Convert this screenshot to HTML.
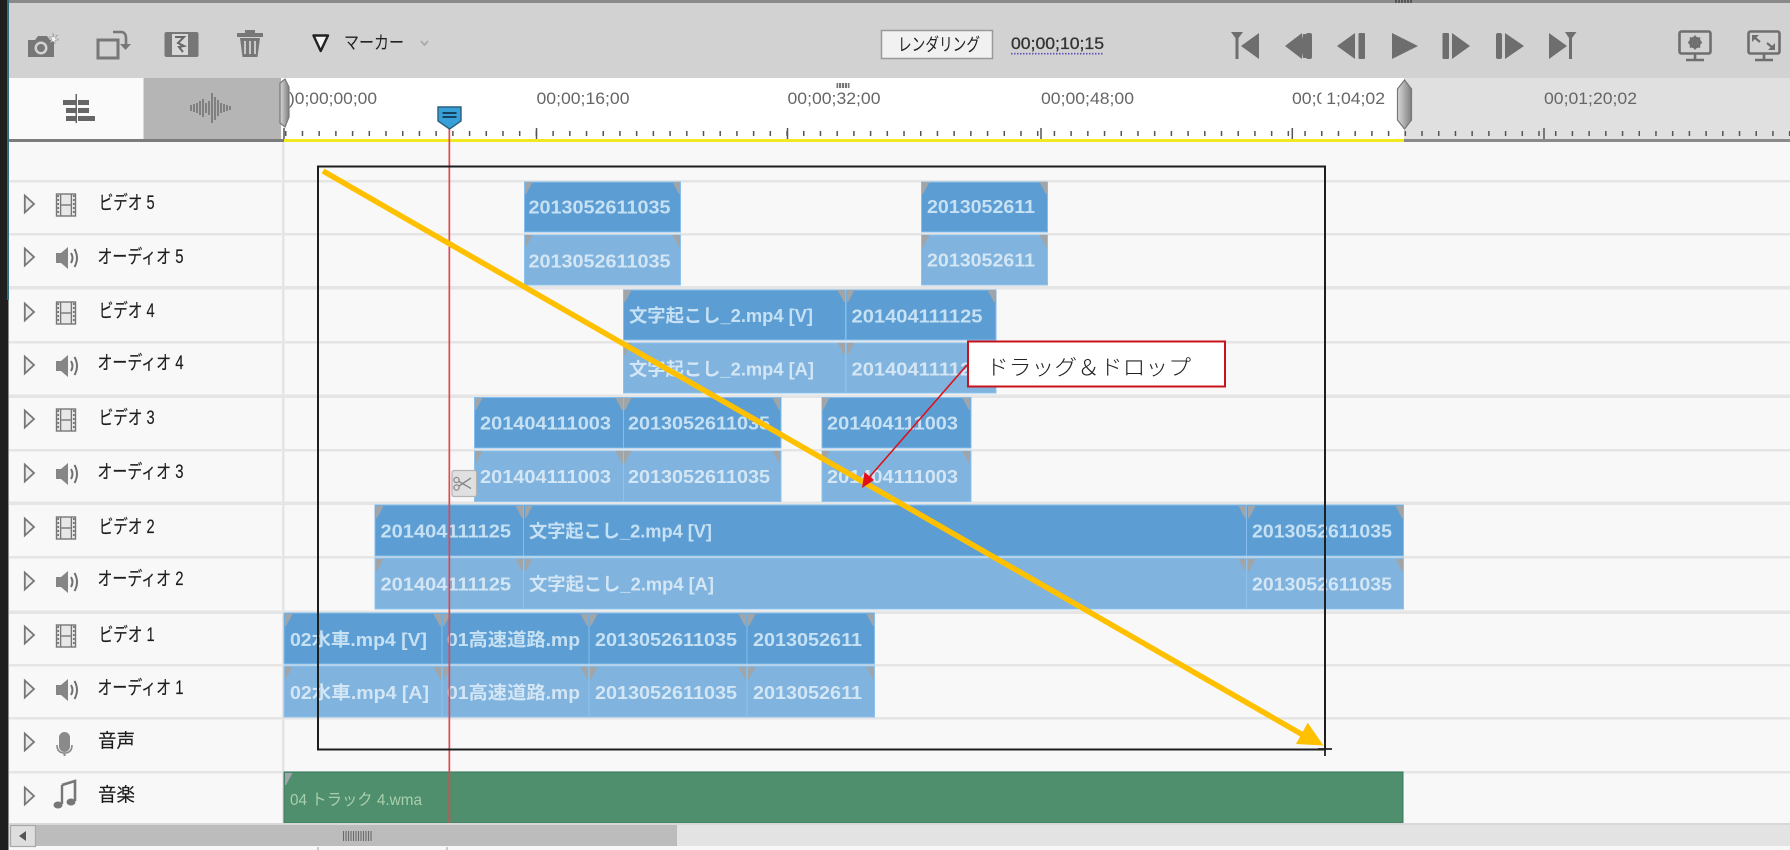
<!DOCTYPE html>
<html lang="ja">
<head>
<meta charset="utf-8">
<title>タイムライン</title>
<style>
html,body{margin:0;padding:0;background:#f8f8f8;width:1790px;height:850px;overflow:hidden}
svg{display:block;position:absolute;left:0;top:0}
text{font-family:"Liberation Sans","Noto Sans CJK JP",sans-serif}
.r{font-size:17px;fill:#666}
.l{font-size:19px;fill:#1c1c1c;stroke:#1c1c1c;stroke-width:.15;font-family:"Liberation Sans","Noto Sans CJK JP",sans-serif}
.c{font-size:18px;font-weight:bold;fill:#c6e0f4}
.a{font-size:18px;font-weight:bold;fill:#d3e6f5}
.v{fill:#5c9ed3;stroke:#84bdee;stroke-width:1}
.u{fill:#80b3dd;stroke:#8cc3f0;stroke-width:1}
.g{fill:#6e6e6e}
</style>
</head>
<body>
<svg width="1790" height="850" viewBox="0 0 1790 850" xmlns="http://www.w3.org/2000/svg">
<defs>
<linearGradient id="hd" x1="0" x2="1" y1="0" y2="0"><stop offset="0" stop-color="#d8d8d8"/><stop offset="1" stop-color="#7e7e7e"/></linearGradient>
<g id="tl"><polygon points="0,0 7.500,0 1,12 0,12" fill="#a2a5a8"/></g>
<g id="tr"><polygon points="0,0 -7.500,0 -1,12 0,12" fill="#a2a5a8"/></g>
<g id="ex"><polygon points="0.800,-8.500 10,0 0.800,8.500" fill="#ececec" stroke="#777" stroke-width="1.800"/></g>
<g id="film"><rect x="0" y="-11" width="19" height="22" fill="#e8e8e8" stroke="#777" stroke-width="1.400"/><rect x="3.500" y="-11" width="1.300" height="22" fill="#777"/><rect x="14.200" y="-11" width="1.300" height="22" fill="#777"/><rect x="4.800" y="-0.700" width="9.400" height="1.400" fill="#777"/><path d="M1.700-10v20M17.300-10v20" stroke="#777" stroke-width="1.800" stroke-dasharray="2 2"/></g>
<g id="spk"><polygon points="0,-5 5,-5 12,-11 12,11 5,5 0,5" fill="#868686"/><path d="M15-5q3 5 0 10M18.500-9q5 9 0 18" fill="none" stroke="#707070" stroke-width="2"/></g>
</defs>

<!-- base -->
<rect x="0" y="0" width="1790" height="850" fill="#f8f8f8"/>
<rect x="9" y="0" width="1781" height="78" fill="#d2d2d2"/>
<rect x="0" y="0" width="1790" height="3" fill="#8a8a8a"/>
<path d="M1396 0v3M1399 0v3M1402 0v3M1405 0v3M1408 0v3M1411 0v3" stroke="#444" stroke-width="1.500"/>

<!-- toolbar left -->
<g>
<path d="M28 40h7l3-4h9l3 4h4v17H28z" fill="#777"/>
<circle cx="41" cy="48" r="6.500" fill="#d2d2d2"/><circle cx="41" cy="48" r="4" fill="#777"/>
<path d="M53 33l1 4 4-2-3 3 4 2-4 0 0 4-2-3-3 2 2-4-3-2 4 0z" fill="#f4f4f4" stroke="#888" stroke-width=".5"/>
<rect x="98" y="40" width="20" height="18" fill="none" stroke="#777" stroke-width="3"/>
<path d="M113 32h9q4 1 4 6v6" fill="none" stroke="#777" stroke-width="2.600"/><polygon points="120,44 131,44 125.500,50" fill="#777"/>
<rect x="164.500" y="32" width="34" height="25" rx="2" fill="#777"/><rect x="172" y="34" width="16" height="21" fill="#d8d8d8"/>
<path d="M175 37h9l-6 6 6 3-5 1 4 5" fill="none" stroke="#666" stroke-width="2"/>
<rect x="237" y="33" width="26" height="4" fill="#777"/><rect x="245" y="30" width="10" height="4" fill="#777"/>
<path d="M240 38h20l-2.500 19h-15z" fill="#777"/><path d="M245 41v13M250 41v13M255 41v13" stroke="#d2d2d2" stroke-width="1.800"/>
<polygon points="313.500,35.500 328,35.500 320.700,51" fill="#f4f4f4" stroke="#222" stroke-width="2.400" stroke-linejoin="round"/>
<text x="344" y="49" font-size="18" fill="#222" textLength="60" lengthAdjust="spacingAndGlyphs">マーカー</text>
<path d="M421 41l3.500 4 3.500-4" fill="none" stroke="#aaa" stroke-width="1.800"/>
</g>

<!-- render button -->
<rect x="881.500" y="30.500" width="111" height="28" fill="#f1f1f1" stroke="#999" stroke-width="1.500"/>
<text x="898" y="51" font-size="18" fill="#222" textLength="82" lengthAdjust="spacingAndGlyphs">レンダリング</text>
<text x="1011" y="49" font-size="17" fill="#333" stroke="#333" stroke-width=".3" textLength="93" lengthAdjust="spacingAndGlyphs">00;00;10;15</text>
<line x1="1011" y1="53.700" x2="1104" y2="53.700" stroke="#5b50b4" stroke-width="1.600" stroke-dasharray="1.500 1.500"/>

<!-- transport -->
<g fill="#6e6e6e">
<polygon points="1231,32 1243,32 1238.500,38 1238.500,59 1235.500,59 1235.500,38"/><polygon points="1259,33 1259,59 1241,46"/>
<polygon points="1285,46 1302,33 1302,59"/><path d="M1303 34q-3 12 0 24h3v-24z"/><rect x="1306" y="33" width="6" height="26" rx="2"/>
<polygon points="1337,46 1355,33 1355,59"/><rect x="1358.500" y="33" width="6.500" height="26" rx="1"/>
<polygon points="1392,33 1418,46 1392,59"/>
<rect x="1442.500" y="33" width="6.500" height="26" rx="1"/><polygon points="1452,33 1470,46 1452,59"/>
<rect x="1496" y="33" width="6" height="26" rx="2"/><polygon points="1505,33 1524,46 1505,59"/>
<polygon points="1549,33 1567,46 1549,59"/><polygon points="1565,32 1576.500,32 1572,38 1572,59 1569,59 1569,38"/>
</g>
<g fill="none" stroke="#6e6e6e">
<rect x="1679.500" y="31.500" width="31" height="22" rx="2" stroke-width="2.600"/>
<path d="M1695 54v5M1686 60h18" stroke-width="2.600"/>
<circle cx="1695" cy="42.500" r="4.500" stroke-width="3"/>
<path d="M1695 35.500v14M1688 42.500h14M1690 37.500l10 10M1700 37.500l-10 10" stroke-width="1.800"/>
<rect x="1748.500" y="31.500" width="31" height="22" rx="2" stroke-width="2.600"/>
<path d="M1764 54v5M1755 60h18" stroke-width="2.600"/>
<path d="M1754 37l6 5M1773 48l-6-5" stroke-width="2.200"/>
</g>
<polygon points="1752,35 1759,35 1752,42" fill="#6e6e6e"/><polygon points="1775,50 1768,50 1775,43" fill="#6e6e6e"/>

<!-- ruler -->
<rect x="9" y="78" width="134.500" height="61" fill="#fafafa"/>
<rect x="143.500" y="78" width="137.500" height="61" fill="#b5b5b5"/>
<rect x="282" y="78" width="1122" height="61" fill="#fff"/>
<rect x="1404" y="78" width="386" height="61" fill="#e0e0e0"/>
<rect x="9" y="139" width="275" height="3" fill="#7c7c7c"/>
<rect x="284" y="139" width="1120" height="3" fill="#f0e820"/>
<rect x="1404" y="139" width="386" height="3" fill="#8a8a8a"/>
<line x1="284" y1="133.500" x2="1790" y2="133.500" stroke="#555" stroke-width="5" stroke-dasharray="1.500 15.210" stroke-dashoffset="-1"/>
<g stroke="#555" stroke-width="1.500">
<path d="M536.500 128v11M787.500 128v11M1041 128v11M1292.300 128v11M1544 128v11M284 128v11"/>
</g>
<g fill="#555"><rect x="836.500" y="83" width="13" height="5" opacity=".8"/></g>
<path d="M838.500 83v5M841.500 83v5M844.500 83v5M847.500 83v5" stroke="#fff" stroke-width=".8"/>
<g class="r">
<text class="r" x="289" y="104" textLength="88" lengthAdjust="spacingAndGlyphs">)0;00;00;00</text>
<text class="r" x="536.500" y="104" textLength="93" lengthAdjust="spacingAndGlyphs">00;00;16;00</text>
<text class="r" x="787.500" y="104" textLength="93" lengthAdjust="spacingAndGlyphs">00;00;32;00</text>
<text class="r" x="1041" y="104" textLength="93" lengthAdjust="spacingAndGlyphs">00;00;48;00</text>
<text class="r" x="1292" y="104" textLength="93" lengthAdjust="spacingAndGlyphs">00;01;04;02</text>
<text class="r" x="1544" y="104" textLength="93" lengthAdjust="spacingAndGlyphs">00;01;20;02</text>
</g>
<rect x="1321.500" y="90" width="4" height="16" fill="#fff"/>
<!-- ruler left icons -->
<g fill="#666">
<rect x="63" y="100" width="13" height="5"/><rect x="78" y="100" width="11" height="5"/>
<rect x="66" y="108" width="10" height="5"/><rect x="78" y="108" width="11" height="5"/>
<rect x="66" y="116" width="10" height="5"/><rect x="78" y="116" width="17" height="5"/>
<rect x="75.500" y="94" width="1.500" height="29"/>
</g>
<path d="M191 105v6M194 104v8M197 103v10M200 101v14M203 99v18M206 103v10M209 101v14M212 93v30M215 97v23M218 100v16M221 103v10M224 104v8M227 105v6M230 106v4" stroke="#6e6e6e" stroke-width="1.500"/>
<!-- handles -->
<path d="M280 83l5-4 4 8v30l-4 10-5-4z" fill="url(#hd)" stroke="#777" stroke-width="1.200"/>
<path d="M1404.500 80l7 9v31l-7 9-7-9v-31z" fill="url(#hd)" stroke="#777" stroke-width="1.200"/>

<!-- track grid -->
<rect x="9" y="142" width="1781" height="681" fill="#f8f8f8"/>
<g fill="#e5e5e5">
<rect x="9" y="180" width="1781" height="2.500"/>
<rect x="9" y="233" width="1781" height="2.500"/>
<rect x="9" y="286" width="1781" height="3.500"/>
<rect x="9" y="341" width="1781" height="2.500"/>
<rect x="9" y="394.500" width="1781" height="3.500"/>
<rect x="9" y="449" width="1781" height="2.500"/>
<rect x="9" y="501.500" width="1781" height="3.500"/>
<rect x="9" y="556" width="1781" height="2.500"/>
<rect x="9" y="610.500" width="1781" height="3.500"/>
<rect x="9" y="664" width="1781" height="2.500"/>
<rect x="9" y="717" width="1781" height="2.500"/>
<rect x="9" y="771" width="1781" height="2.500"/>
<rect x="282" y="142" width="2.500" height="681"/>
</g>

<!-- track labels -->
<use href="#ex" x="24" y="204"/><use href="#film" x="56.500" y="205"/><text class="l" x="98.700" y="209" textLength="56" lengthAdjust="spacingAndGlyphs">ビデオ 5</text>
<use href="#ex" x="24" y="257"/><use href="#spk" x="56" y="258"/><text class="l" x="97.500" y="263" textLength="86" lengthAdjust="spacingAndGlyphs">オーディオ 5</text>
<use href="#ex" x="24" y="312"/><use href="#film" x="56.500" y="313"/><text class="l" x="98.700" y="317" textLength="56" lengthAdjust="spacingAndGlyphs">ビデオ 4</text>
<use href="#ex" x="24" y="365"/><use href="#spk" x="56" y="366"/><text class="l" x="97.500" y="369" textLength="86" lengthAdjust="spacingAndGlyphs">オーディオ 4</text>
<use href="#ex" x="24" y="419"/><use href="#film" x="56.500" y="420"/><text class="l" x="98.700" y="424" textLength="56" lengthAdjust="spacingAndGlyphs">ビデオ 3</text>
<use href="#ex" x="24" y="473"/><use href="#spk" x="56" y="474"/><text class="l" x="97.500" y="478" textLength="86" lengthAdjust="spacingAndGlyphs">オーディオ 3</text>
<use href="#ex" x="24" y="527"/><use href="#film" x="56.500" y="528"/><text class="l" x="98.700" y="533" textLength="56" lengthAdjust="spacingAndGlyphs">ビデオ 2</text>
<use href="#ex" x="24" y="581"/><use href="#spk" x="56" y="582"/><text class="l" x="97.500" y="585" textLength="86" lengthAdjust="spacingAndGlyphs">オーディオ 2</text>
<use href="#ex" x="24" y="635"/><use href="#film" x="56.500" y="636"/><text class="l" x="98.700" y="641" textLength="56" lengthAdjust="spacingAndGlyphs">ビデオ 1</text>
<use href="#ex" x="24" y="689"/><use href="#spk" x="56" y="690"/><text class="l" x="97.500" y="694" textLength="86" lengthAdjust="spacingAndGlyphs">オーディオ 1</text>
<use href="#ex" x="24" y="742"/>
<rect x="59" y="732" width="11" height="20" rx="5.500" fill="#8a8a8a"/><path d="M57 745q0 8 7.500 8t7.500-8" fill="none" stroke="#8a8a8a" stroke-width="1.600"/><path d="M64.500 753v3" stroke="#8a8a8a" stroke-width="2"/>
<text class="l" x="98" y="747" textLength="37" lengthAdjust="spacingAndGlyphs">音声</text>
<use href="#ex" x="24" y="796"/>
<path d="M62 785l13-4v20" fill="none" stroke="#777" stroke-width="2.600"/><path d="M62 785v19" fill="none" stroke="#777" stroke-width="2.400"/>
<ellipse cx="58" cy="805" rx="4.500" ry="3.500" fill="#777"/><ellipse cx="71" cy="802" rx="4.500" ry="3.500" fill="#777"/>
<text class="l" x="98" y="801" textLength="37" lengthAdjust="spacingAndGlyphs">音楽</text>

<!-- clips -->
<rect class="v" x="524.500" y="182" width="156" height="50"/>
<rect class="u" x="524.500" y="235" width="156" height="50"/>
<rect class="v" x="921.500" y="182" width="126" height="50"/>
<rect class="u" x="921.500" y="235" width="126" height="50"/>

<rect class="v" x="623.500" y="290" width="222" height="50"/>
<rect class="v" x="846" y="290" width="150" height="50"/>
<rect class="u" x="623.500" y="343" width="222" height="50"/>
<rect class="u" x="846" y="343" width="150" height="50"/>

<rect class="v" x="474.500" y="397.500" width="149" height="50.500"/>
<rect class="v" x="623.500" y="397.500" width="157.500" height="50.500"/>
<rect class="u" x="474.500" y="451" width="149" height="50.500"/>
<rect class="u" x="623.500" y="451" width="157.500" height="50.500"/>
<rect class="v" x="822" y="397.500" width="149" height="50.500"/>
<rect class="u" x="822" y="451" width="149" height="50.500"/>

<rect class="v" x="375" y="505" width="148.500" height="51"/>
<rect class="v" x="523.500" y="505" width="723" height="51"/>
<rect class="v" x="1246.500" y="505" width="157" height="51"/>
<rect class="u" x="375" y="558" width="148.500" height="51"/>
<rect class="u" x="523.500" y="558" width="723" height="51"/>
<rect class="u" x="1246.500" y="558" width="157" height="51"/>

<rect class="v" x="284" y="613" width="158" height="51"/>
<rect class="v" x="442" y="613" width="147" height="51"/>
<rect class="v" x="589" y="613" width="158" height="51"/>
<rect class="v" x="747" y="613" width="127.500" height="51"/>
<rect class="u" x="284" y="666" width="158" height="51"/>
<rect class="u" x="442" y="666" width="147" height="51"/>
<rect class="u" x="589" y="666" width="158" height="51"/>
<rect class="u" x="747" y="666" width="127.500" height="51"/>

<rect x="284" y="772" width="1119" height="51" fill="#4f8f6d" stroke="#357a5c" stroke-width="1"/>

<!-- clip corners -->
<use href="#tl" x="525" y="182"/><use href="#tr" x="680" y="182"/><use href="#tl" x="525" y="235"/><use href="#tr" x="680" y="235"/>
<use href="#tl" x="922" y="182"/><use href="#tr" x="1047" y="182"/><use href="#tl" x="922" y="235"/><use href="#tr" x="1047" y="235"/>
<use href="#tl" x="624" y="290"/><use href="#tr" x="845" y="290"/><use href="#tl" x="847" y="290"/><use href="#tr" x="995" y="290"/>
<use href="#tl" x="624" y="343"/><use href="#tr" x="845" y="343"/><use href="#tl" x="847" y="343"/><use href="#tr" x="995" y="343"/>
<use href="#tl" x="475" y="398"/><use href="#tr" x="623" y="398"/><use href="#tl" x="624" y="398"/><use href="#tr" x="780" y="398"/>
<use href="#tl" x="475" y="451"/><use href="#tr" x="623" y="451"/><use href="#tl" x="624" y="451"/><use href="#tr" x="780" y="451"/>
<use href="#tl" x="822" y="398"/><use href="#tr" x="970" y="398"/><use href="#tl" x="822" y="451"/><use href="#tr" x="970" y="451"/>
<use href="#tl" x="376" y="506"/><use href="#tr" x="523" y="506"/><use href="#tl" x="525" y="506"/><use href="#tr" x="1246" y="506"/><use href="#tl" x="1248" y="506"/><use href="#tr" x="1403" y="506"/>
<use href="#tl" x="376" y="559"/><use href="#tr" x="523" y="559"/><use href="#tl" x="525" y="559"/><use href="#tr" x="1246" y="559"/><use href="#tl" x="1248" y="559"/><use href="#tr" x="1403" y="559"/>
<use href="#tl" x="285" y="614"/><use href="#tr" x="441" y="614"/><use href="#tl" x="443" y="614"/><use href="#tr" x="588" y="614"/><use href="#tl" x="590" y="614"/><use href="#tr" x="746" y="614"/><use href="#tl" x="748" y="614"/><use href="#tr" x="874" y="614"/>
<use href="#tl" x="285" y="667"/><use href="#tr" x="441" y="667"/><use href="#tl" x="443" y="667"/><use href="#tr" x="588" y="667"/><use href="#tl" x="590" y="667"/><use href="#tr" x="746" y="667"/><use href="#tl" x="748" y="667"/><use href="#tr" x="874" y="667"/>
<use href="#tl" x="285" y="773"/>

<!-- clip text -->
<text class="c" x="528.500" y="213.500" textLength="142" lengthAdjust="spacingAndGlyphs">2013052611035</text>
<text class="a" x="528.500" y="267.500" textLength="142" lengthAdjust="spacingAndGlyphs">2013052611035</text>
<text class="c" x="927" y="213" textLength="108" lengthAdjust="spacingAndGlyphs">2013052611</text>
<text class="a" x="927" y="266.500" textLength="108" lengthAdjust="spacingAndGlyphs">2013052611</text>
<text class="c" x="629" y="322" textLength="184" lengthAdjust="spacingAndGlyphs">文字起こし_2.mp4 [V]</text>
<text class="c" x="851.500" y="322.500" textLength="131" lengthAdjust="spacingAndGlyphs">201404111125</text>
<text class="a" x="629" y="375.500" textLength="185" lengthAdjust="spacingAndGlyphs">文字起こし_2.mp4 [A]</text>
<text class="a" x="851.500" y="375.500" textLength="131" lengthAdjust="spacingAndGlyphs">201404111125</text>
<text class="c" x="480" y="429.500" textLength="131" lengthAdjust="spacingAndGlyphs">201404111003</text>
<text class="c" x="628" y="429.500" textLength="142" lengthAdjust="spacingAndGlyphs">2013052611035</text>
<text class="a" x="480" y="483" textLength="131" lengthAdjust="spacingAndGlyphs">201404111003</text>
<text class="a" x="628" y="483" textLength="142" lengthAdjust="spacingAndGlyphs">2013052611035</text>
<text class="c" x="827" y="429.500" textLength="131" lengthAdjust="spacingAndGlyphs">201404111003</text>
<text class="a" x="827" y="483" textLength="131" lengthAdjust="spacingAndGlyphs">201404111003</text>
<text class="c" x="380.500" y="537.500" textLength="130.500" lengthAdjust="spacingAndGlyphs">201404111125</text>
<text class="c" x="529" y="537.500" textLength="183" lengthAdjust="spacingAndGlyphs">文字起こし_2.mp4 [V]</text>
<text class="c" x="1252" y="537.500" textLength="140" lengthAdjust="spacingAndGlyphs">2013052611035</text>
<text class="a" x="380.500" y="590.500" textLength="130.500" lengthAdjust="spacingAndGlyphs">201404111125</text>
<text class="a" x="529" y="590.500" textLength="185" lengthAdjust="spacingAndGlyphs">文字起こし_2.mp4 [A]</text>
<text class="a" x="1252" y="590.500" textLength="140" lengthAdjust="spacingAndGlyphs">2013052611035</text>
<text class="c" x="290" y="646" textLength="137" lengthAdjust="spacingAndGlyphs">02水車.mp4 [V]</text>
<text class="c" x="447" y="646" textLength="133" lengthAdjust="spacingAndGlyphs">01高速道路.mp</text>
<text class="c" x="595" y="646" textLength="142" lengthAdjust="spacingAndGlyphs">2013052611035</text>
<text class="c" x="753" y="646" textLength="109" lengthAdjust="spacingAndGlyphs">2013052611</text>
<text class="a" x="290" y="699" textLength="139" lengthAdjust="spacingAndGlyphs">02水車.mp4 [A]</text>
<text class="a" x="447" y="699" textLength="133" lengthAdjust="spacingAndGlyphs">01高速道路.mp</text>
<text class="a" x="595" y="699" textLength="142" lengthAdjust="spacingAndGlyphs">2013052611035</text>
<text class="a" x="753" y="699" textLength="109" lengthAdjust="spacingAndGlyphs">2013052611</text>
<text x="290" y="805" font-size="16" fill="#a9cfae" textLength="132" lengthAdjust="spacingAndGlyphs">04 トラック 4.wma</text>

<!-- scissors -->
<rect x="452" y="470.500" width="24.500" height="26" rx="2" fill="#e0e0e0" stroke="#b4b4b4" stroke-width="1.200"/>
<circle cx="456.500" cy="480" r="2.600" fill="none" stroke="#8a8a8a" stroke-width="1.300"/>
<circle cx="456.500" cy="487.500" r="2.600" fill="none" stroke="#8a8a8a" stroke-width="1.300"/>
<path d="M459 481.500l12 7M459 486l12-8" stroke="#8a8a8a" stroke-width="1.400"/>

<!-- playhead -->
<rect x="448.500" y="126" width="1.700" height="699" fill="#e2474f"/>
<path d="M438 107h23v14l-11.500 8-11.500-8z" fill="#38a0d8" stroke="#2a5f7e" stroke-width="1.400"/>
<rect x="442.500" y="112" width="14" height="2" fill="#17425f"/><rect x="442.500" y="116" width="14" height="2" fill="#17425f"/>

<!-- selection box -->
<rect x="318" y="166.500" width="1007" height="583" fill="none" stroke="#1e1e1e" stroke-width="2"/>
<path d="M1318 749h14M1325 742v14" stroke="#222" stroke-width="1.800"/>

<!-- yellow arrow -->
<line x1="323" y1="171" x2="1303" y2="735" stroke="#ffc000" stroke-width="5.500"/>
<polygon points="1307.700,722.700 1296,744 1323.500,745.500" fill="#ffc000"/>

<!-- bottom scrollbar -->
<rect x="9" y="823" width="1781" height="2" fill="#d8d8d8"/>
<rect x="9" y="825" width="1781" height="21" fill="#e3e3e3"/>
<rect x="35" y="825" width="642" height="21" fill="#bcbcbc"/>
<rect x="10.500" y="825.500" width="25" height="21" fill="#dedede" stroke="#a8a8a8" stroke-width="1.200"/>
<polygon points="19,836 26,831 26,841" fill="#555"/>
<path d="M343.500 831v10M346 831v10M348.500 831v10M351 831v10M353.500 831v10M356 831v10M358.500 831v10M361 831v10M363.500 831v10M366 831v10M368.500 831v10M371 831v10" stroke="#6a6a6a" stroke-width="1.100"/>
<path d="M318 847v3M447 847v3" stroke="#bbb" stroke-width="1.500"/>

<!-- left strip -->
<rect x="0" y="0" width="8.500" height="850" fill="#1f1f1f"/>
<rect x="7" y="0" width="2" height="300" fill="#2e6f80"/>

<!-- callout arrow and box -->
<line x1="967" y1="365" x2="866" y2="481" stroke="#d9141c" stroke-width="1.600"/>
<polygon points="862,488 864.500,472 874,480" fill="#e0101a"/>
<rect x="968" y="341.500" width="257" height="45" fill="#fff" stroke="#c8131d" stroke-width="2"/>
<text x="986" y="375" font-size="21.500" fill="#222" font-weight="300" textLength="205" lengthAdjust="spacingAndGlyphs" style='font-family:"Noto Sans CJK JP","Liberation Sans",sans-serif'>ドラッグ＆ドロップ</text>
</svg>
</body>
</html>
